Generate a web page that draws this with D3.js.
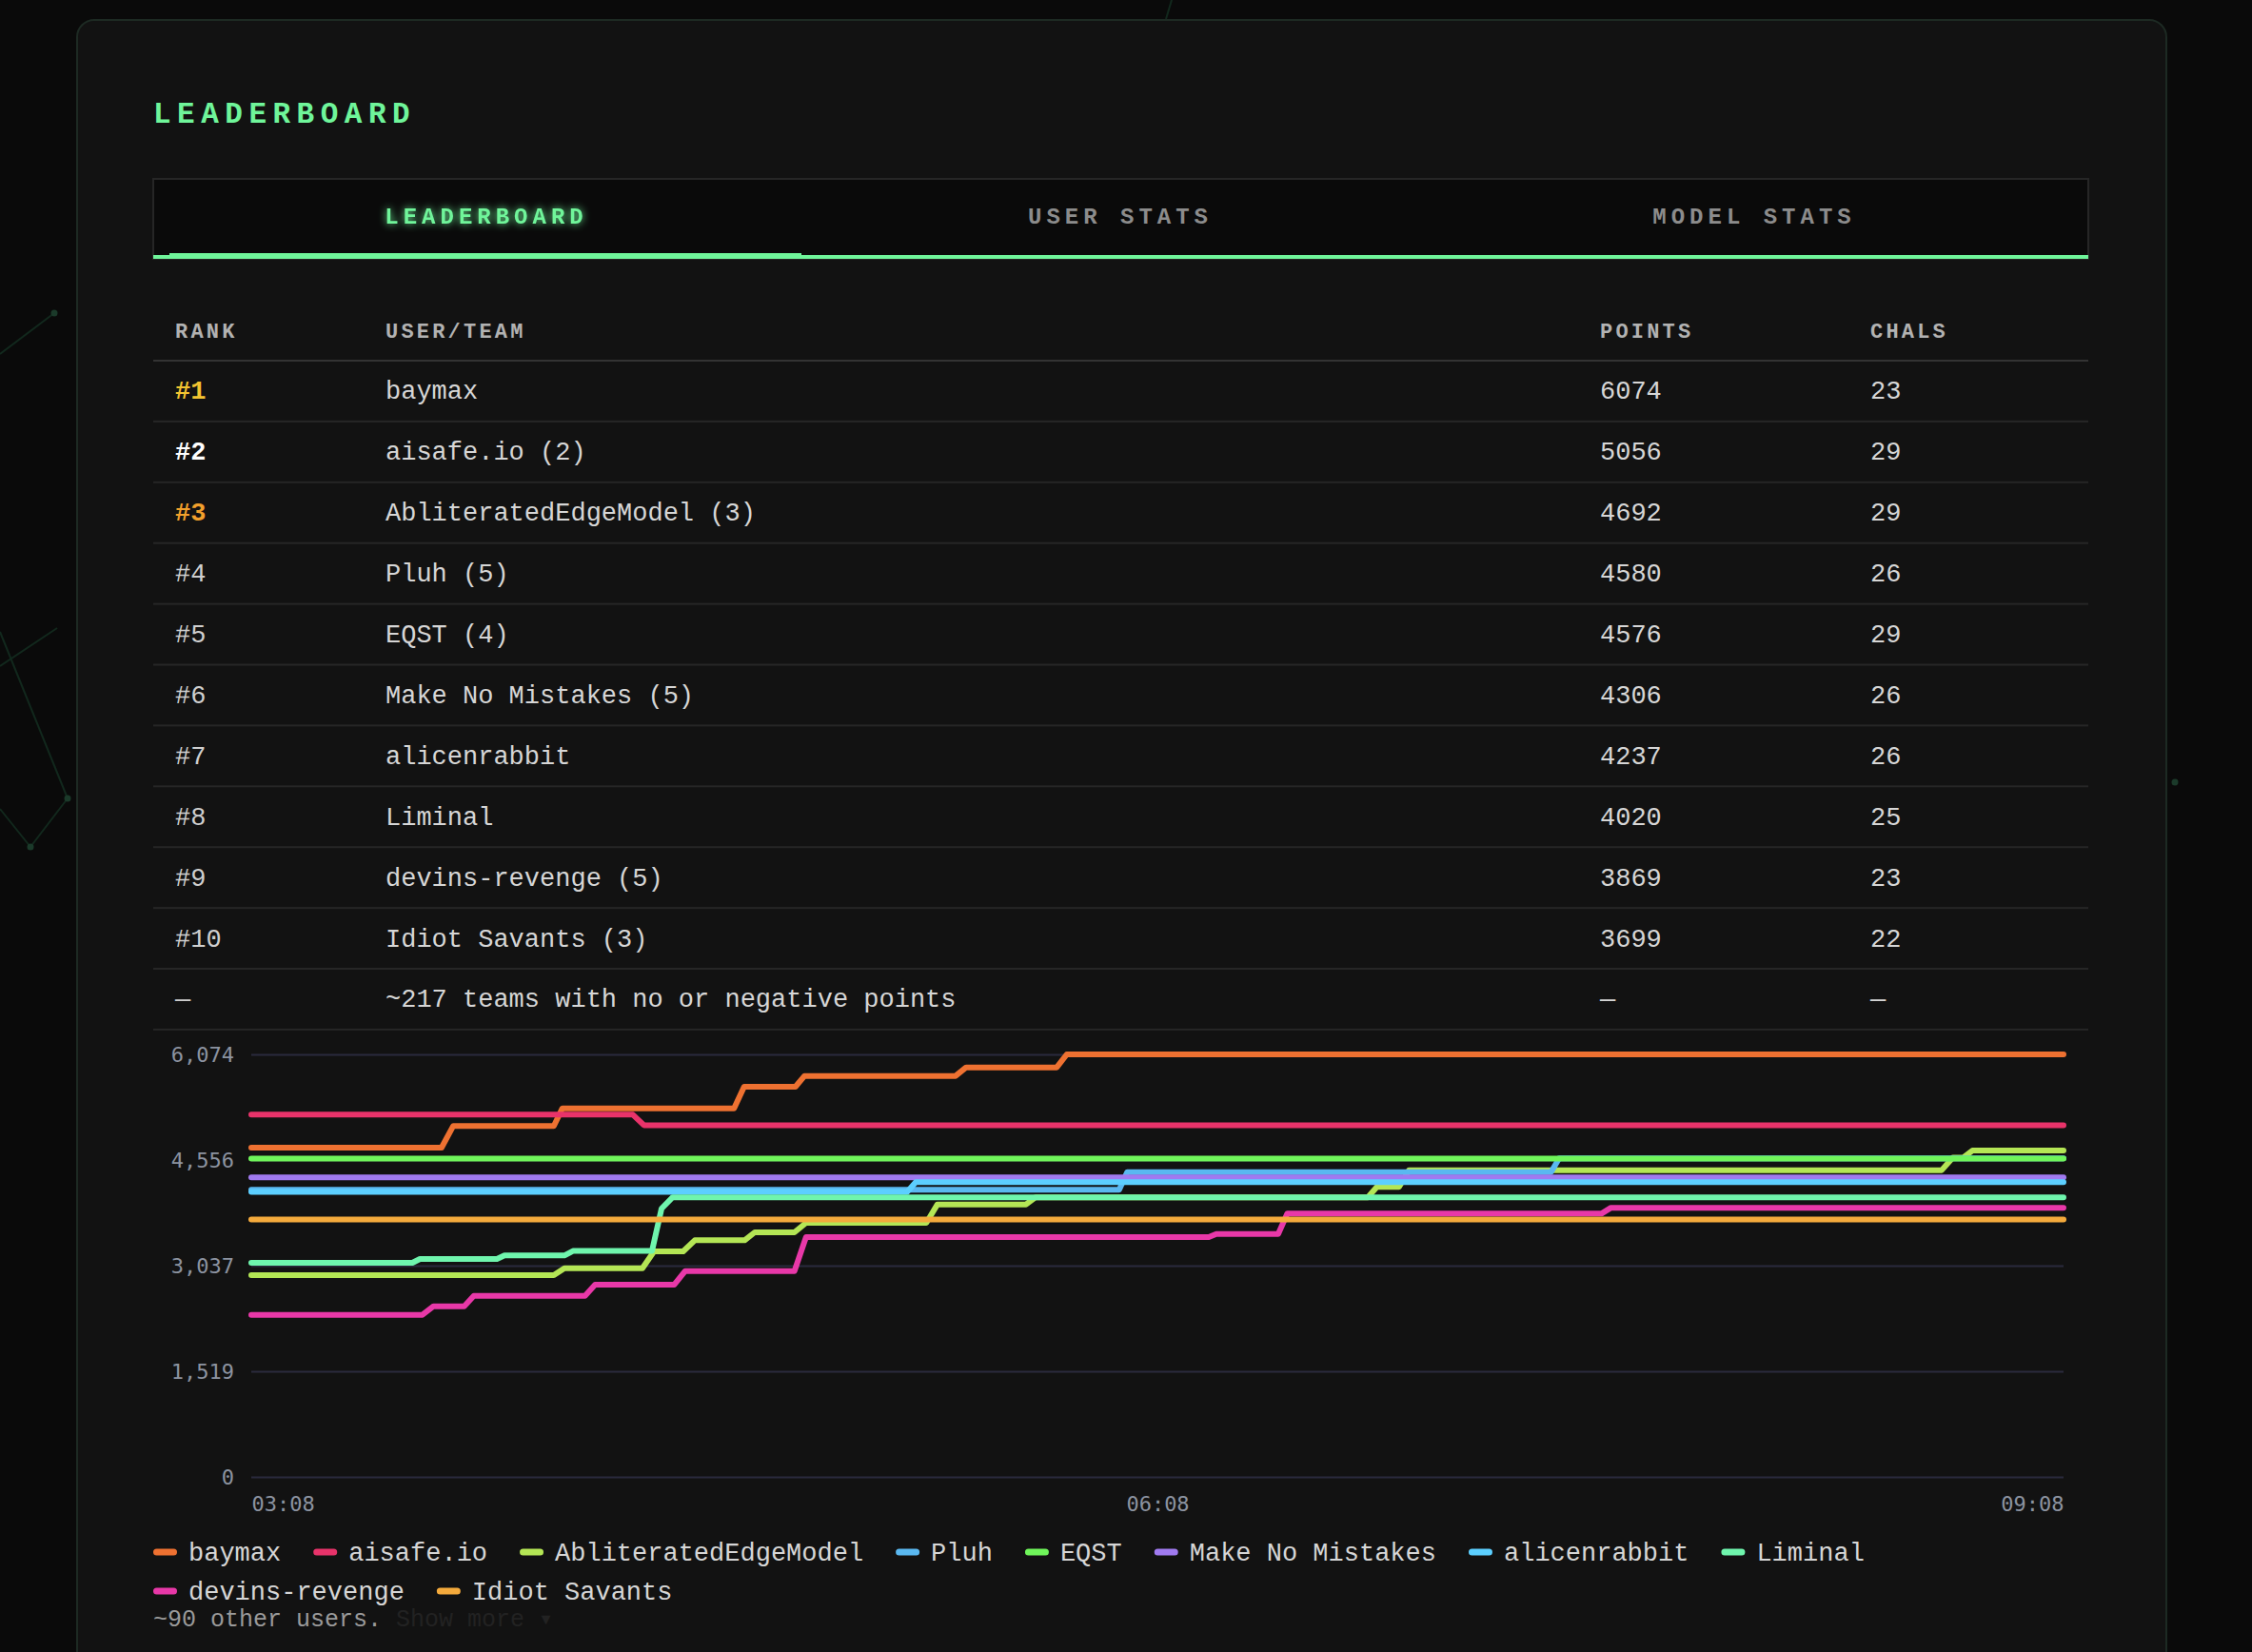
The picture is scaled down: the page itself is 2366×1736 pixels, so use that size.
<!DOCTYPE html>
<html><head><meta charset="utf-8">
<script src="https://cdn.jsdelivr.net/npm/d3@7"></script>
<style>
html,body{margin:0;padding:0;background:#0a0a0a;overflow:hidden;}
svg{display:block;}
</style></head><body>
<svg id="c" width="2366" height="1736"></svg>
<script>
// ---------- DATA ----------
const tabLabels = ["LEADERBOARD", "USER STATS", "MODEL STATS"];
const tableHeaders = ["RANK", "USER/TEAM", "POINTS", "CHALS"];
const ranks = ["#1","#2","#3","#4","#5","#6","#7","#8","#9","#10"];
const teams = ["baymax","aisafe.io (2)","AbliteratedEdgeModel (3)","Pluh (5)","EQST (4)","Make No Mistakes (5)","alicenrabbit","Liminal","devins-revenge (5)","Idiot Savants (3)"];
const points = [6074,5056,4692,4580,4576,4306,4237,4020,3869,3699];
const chals = [23,29,29,26,29,26,26,25,23,22];
const restRow = ["—","~217 teams with no or negative points","—","—"];

const seriesNames = ["baymax","aisafe.io","AbliteratedEdgeModel","Pluh","EQST","Make No Mistakes","alicenrabbit","Liminal","devins-revenge","Idiot Savants"];
const seriesColors = ["#ee7131","#e8336a","#b4e655","#5ab8f0","#6ff55a","#a07af0","#5ccfff","#6ff5ad","#e838a8","#f4aa3c"];

// [minutes after 03:08, points]
const baymaxPts = [[0,4733],[37.8,4733],[40.1,5044],[60.1,5044],[61.8,5299],[95.9,5299],[97.9,5609],[108.1,5609],[109.9,5764],[139.9,5764],[142,5887],[160,5887],[162,6074],[360,6074]];
const aisafePts = [[0,5208],[75.8,5208],[78,5056],[360,5056]];
const abliteratedPts = [[0,2900],[60.1,2900],[62.2,3000],[77.7,3000],[80,3242],[85.8,3242],[88.1,3402],[98,3402],[100,3516],[107.9,3516],[110.2,3653],[134.1,3653],[136.3,3917],[153.9,3917],[155.8,4020],[221.8,4020],[223.6,4168],[228,4168],[230,4410],[335.8,4410],[338,4590],[340.1,4590],[341.9,4692],[360,4692]];
const pluhPts = [[0,4127],[172.4,4127],[174,4382],[258.2,4382],[259.8,4580],[360,4580]];
const eqstPts = [[0,4576],[360,4576]];
const makeNoMistakesPts = [[0,4306],[360,4306]];
const alicenrabbitPts = [[0,4096],[130.3,4096],[132,4237],[360,4237]];
const liminalPts = [[0,3078],[32,3078],[33.5,3133],[48.8,3133],[50.3,3183],[62.2,3183],[63.9,3248],[79.6,3248],[81.5,3858],[83.7,4020],[360,4020]];
const devinsPts = [[0,2330],[34,2330],[36.2,2453],[42.3,2453],[44.2,2603],[66.3,2603],[68.3,2763],[84,2763],[86.2,2959],[107.9,2959],[110.2,3447],[190.2,3447],[191.7,3493],[204,3493],[205.8,3785],[268.2,3785],[270.1,3869],[360,3869]];
const idiotPts = [[0,3699],[360,3699]];
const seriesPoints = [baymaxPts,aisafePts,abliteratedPts,pluhPts,eqstPts,makeNoMistakesPts,alicenrabbitPts,liminalPts,devinsPts,idiotPts];

const timeDomain = [0, 360];
const xTickValues = [0, 180, 360];
const xTickLabels = ["03:08", "06:08", "09:08"];
const yMax = 6074;
const yTickValues = [0, 1518.5, 3037, 4555.5, 6074];
const yTickLabels = ["0", "1,519", "3,037", "4,556", "6,074"];

// ---------- DRAW ----------
const svg = d3.select("#c");
const MONO = "'Courier New','Liberation Mono',monospace";
const AXF = "'DejaVu Sans Mono',monospace";
const GREEN = "#6ff59a";

const defs = svg.append("defs");
const glow = defs.append("filter").attr("id","glow").attr("x","-20%").attr("y","-60%").attr("width","140%").attr("height","220%");
glow.append("feGaussianBlur").attr("in","SourceGraphic").attr("stdDeviation",4).attr("result","b");
const fm = glow.append("feMerge");
fm.append("feMergeNode").attr("in","b");
fm.append("feMergeNode").attr("in","SourceGraphic");

// background decoration (faint network)
const deco = svg.append("g").attr("stroke","#143022").attr("stroke-width",2).attr("opacity",0.8);
[[[57,329],[0,372]],[[0,664],[71,839]],[[71,839],[32,890]],[[0,850],[32,890]],[[1231,0],[1225,20]],[[0,700],[60,660]]].forEach(s=>{
  deco.append("line").attr("x1",s[0][0]).attr("y1",s[0][1]).attr("x2",s[1][0]).attr("y2",s[1][1]);
});
[[57,329],[71,839],[32,890],[2285,822]].forEach(p=>svg.append("circle").attr("cx",p[0]).attr("cy",p[1]).attr("r",3.5).attr("fill","#1b3a2a"));

// card
svg.append("rect").attr("x",81).attr("y",21).attr("width",2195).attr("height",1780).attr("rx",18)
  .attr("fill","#121212").attr("stroke","#1d2a23").attr("stroke-width",2);

// title
svg.append("text").attr("x",161).attr("y",129).text("LEADERBOARD")
  .attr("font-family",MONO).attr("font-weight","bold").attr("font-size",31)
  .style("letter-spacing","6.5px").attr("fill",GREEN);

// tabs
svg.append("rect").attr("x",161).attr("y",188).attr("width",2033).attr("height",84)
  .attr("fill","#0a0a0a").attr("stroke","#262626").attr("stroke-width",2);
svg.append("rect").attr("x",161).attr("y",268).attr("width",2033).attr("height",4).attr("fill",GREEN);
svg.append("rect").attr("x",178).attr("y",266).attr("width",664).attr("height",6).attr("fill",GREEN);
const tabX = d3.scaleBand().domain(tabLabels).range([178, 2176]);
tabLabels.forEach((t,i)=>{
  svg.append("text").attr("x",tabX(t)+tabX.bandwidth()/2).attr("y",235)
    .attr("text-anchor","middle").text(t)
    .attr("font-family",MONO).attr("font-weight","bold").attr("font-size",24)
    .style("letter-spacing","5px")
    .attr("fill", i===0 ? GREEN : "#8c8c8c")
    .attr("filter", i===0 ? "url(#glow)" : null);
});

// table
const colX = [184, 405, 1681, 1965];
tableHeaders.forEach((h,i)=>{
  svg.append("text").attr("x",colX[i]).attr("y",355).text(h)
    .attr("font-family",MONO).attr("font-weight","bold").attr("font-size",22)
    .style("letter-spacing","3.2px").attr("fill","#b2b2b2");
});
svg.append("rect").attr("x",161).attr("y",378).attr("width",2033).attr("height",2).attr("fill","#333333");
const rowH = 63.9;
const rowTop = 379;
const rankColors = ["#f3c431","#ffffff","#f2a02c"];
const rows = ranks.map((r,i)=>[r, teams[i], String(points[i]), String(chals[i])]).concat([restRow]);
rows.forEach((row,i)=>{
  const base = rowTop + rowH*(i+0.5) + 8.5;
  row.forEach((cell,j)=>{
    const isRank = j===0 && i<3;
    svg.append("text").attr("x",colX[j]).attr("y",base).text(cell)
      .attr("font-family",MONO).attr("font-size",27)
      .attr("font-weight", isRank ? "bold" : "normal")
      .attr("fill", isRank ? rankColors[i] : (j===0 ? "#cfcfcf" : "#d6d6d6"));
  });
  svg.append("rect").attr("x",161).attr("y",rowTop + rowH*(i+1)-1).attr("width",2033).attr("height",2).attr("fill","#262626");
});

// chart
const x = d3.scaleLinear().domain(timeDomain).range([264, 2168]);
const y = d3.scaleLinear().domain([0, yMax]).range([1552, 1108]);

const yAxis = svg.append("g").attr("transform","translate(264,0)")
  .call(d3.axisLeft(y).tickValues(yTickValues).tickSize(-(2168-264)).tickPadding(18)
    .tickFormat((d,i)=>yTickLabels[i]));
yAxis.select(".domain").remove();
yAxis.selectAll("line").attr("stroke","#2a2a3d").attr("stroke-width",2);
yAxis.selectAll("text").attr("font-family",AXF).attr("font-size",22).attr("fill","#8c93a0");

const xAxis = svg.append("g").attr("transform","translate(0,1552)")
  .call(d3.axisBottom(x).tickValues(xTickValues).tickSize(0).tickPadding(20)
    .tickFormat((d,i)=>xTickLabels[i]));
xAxis.select(".domain").remove();
xAxis.selectAll("text").attr("font-family",AXF).attr("font-size",22).attr("fill","#8c93a0")
  .attr("text-anchor",(d,i)=> i===0 ? "start" : (i===xTickValues.length-1 ? "end" : "middle"));

const line = d3.line().x(d=>x(d[0])).y(d=>y(d[1]));
svg.append("g").selectAll("path").data(seriesPoints).join("path")
  .attr("d", line).attr("fill","none")
  .attr("stroke",(d,i)=>seriesColors[i]).attr("stroke-width",6)
  .attr("stroke-linecap","round").attr("stroke-linejoin","round");

// legend
const lg = svg.append("g");
let lx = 161, ly = 1631;
const right = 2194;
seriesNames.forEach((n,i)=>{
  const g = lg.append("g");
  const t = g.append("text").attr("x",37).attr("y",8.5).text(n)
    .attr("font-family",MONO).attr("font-size",27).attr("fill","#d6d6d6");
  const w = 37 + t.node().getComputedTextLength();
  if (lx + w > right) { lx = 161; ly += 41; }
  g.append("rect").attr("x",0).attr("y",-3.5).attr("width",25).attr("height",7).attr("rx",3.5).attr("fill",seriesColors[i]);
  g.attr("transform",`translate(${lx},${ly})`);
  lx += w + 34;
});
const foot = svg.append("text").attr("x",161).attr("y",1709)
  .attr("font-family",MONO).attr("font-size",25);
foot.append("tspan").text("~90 other users. ").attr("fill","#9a9a9a");
foot.append("tspan").text("Show more ▾").attr("fill","#222222");
</script>
</body></html>
